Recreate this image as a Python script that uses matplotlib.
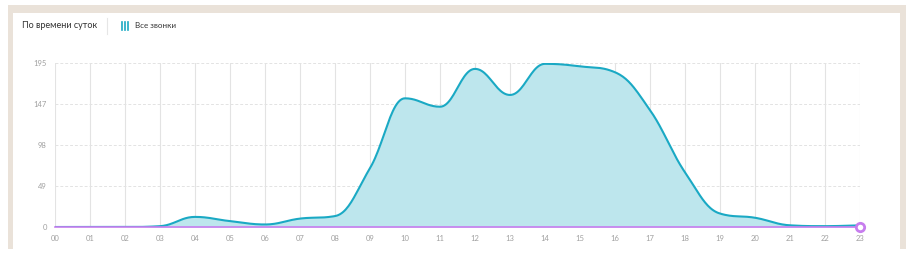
import numpy as np
import matplotlib
matplotlib.use('Agg')
import matplotlib.pyplot as plt
from matplotlib.patches import Rectangle

plt.rcParams['font.family'] = ['Lato', 'DejaVu Sans']

# data
hours = ['00', '01', '02', '03', '04', '05', '06', '07', '08', '09', '10', '11',
         '12', '13', '14', '15', '16', '17', '18', '19', '20', '21', '22', '23']
calls = [0, 0, 0, 1, 12, 7, 3, 10, 13, 70, 153, 143,
         188, 157, 194, 191, 184, 139, 65, 16, 11, 2, 1, 2]
zero_series = [0] * 24
yticks = [0, 48.75, 97.5, 146.25, 195]
ytick_labels = ['0', '49', '98', '147', '195']

TEAL = '#1aa9c4'
FILL = '#bde6ed'
PURPLE = '#c77dee'
GRID = '#e3e3e3'
BEIGE = '#eae2d9'
TXT = '#a0a0a0'


def smooth(x, y, n=24, k=1.5):
    # bezier spline through the points (control points like a web chart lib)
    x = np.asarray(x, float)
    y = np.asarray(y, float)
    N = len(x)
    lx, ly = x.copy(), y.copy()
    rx, ry = x.copy(), y.copy()
    for i in range(1, N - 1):
        lx[i] = (k*x[i] + x[i-1]) / (k + 1)
        ly[i] = (k*y[i] + y[i-1]) / (k + 1)
        rx[i] = (k*x[i] + x[i+1]) / (k + 1)
        ry[i] = (k*y[i] + y[i+1]) / (k + 1)
        corr = (ry[i] - ly[i]) * (rx[i] - x[i]) / (rx[i] - lx[i]) + y[i] - ry[i]
        ly[i] += corr
        ry[i] += corr
        if ly[i] > y[i-1] and ly[i] > y[i]:
            ly[i] = max(y[i-1], y[i]); ry[i] = 2*y[i] - ly[i]
        elif ly[i] < y[i-1] and ly[i] < y[i]:
            ly[i] = min(y[i-1], y[i]); ry[i] = 2*y[i] - ly[i]
        if ry[i] > y[i+1] and ry[i] > y[i]:
            ry[i] = max(y[i+1], y[i]); ly[i] = 2*y[i] - ry[i]
        elif ry[i] < y[i+1] and ry[i] < y[i]:
            ry[i] = min(y[i+1], y[i]); ly[i] = 2*y[i] - ry[i]
    t = np.linspace(0, 1, n, endpoint=False)[:, None]
    pts = []
    for i in range(N - 1):
        p0 = np.array([x[i], y[i]])
        p1 = np.array([rx[i], ry[i]])
        p2 = np.array([lx[i+1], ly[i+1]])
        p3 = np.array([x[i+1], y[i+1]])
        pts.append((1-t)**3*p0 + 3*(1-t)**2*t*p1 + 3*(1-t)*t**2*p2 + t**3*p3)
    pts.append(np.array([[x[-1], y[-1]]]))
    pts = np.vstack(pts)
    return pts[:, 0], pts[:, 1]


W, H = 913, 257
fig = plt.figure(figsize=(W/100, H/100), dpi=100)

# frame
bg = fig.add_axes([0, 0, 1, 1])
bg.set_xlim(0, W)
bg.set_ylim(H, 0)
bg.axis('off')
bg.add_patch(Rectangle((8, 5), 898, 244, color=BEIGE, lw=0))
bg.add_patch(Rectangle((13, 13), 887, 250, color='white', lw=0))
bg.text(22, 26, 'По времени суток', fontsize=6.5, color='#333333', va='center')
bg.plot([107, 107], [18, 34], color='#e6e6e6', lw=0.8)
for bx in [122, 125, 128]:
    bg.plot([bx, bx], [22, 30], color=TEAL, lw=1.2)
bg.text(135, 26, 'Все звонки', fontsize=5.8, color='#333333', va='center')

ax = fig.add_axes([55/W, 1 - 227/H, (860-55)/W, (227-63)/H])
x = np.arange(len(hours))
sx, sy = smooth(x, calls)
ax.fill_between(sx, 0, sy, color=FILL, lw=0)
ax.plot(sx, sy, color=TEAL, lw=1.5)
ax.plot(x, zero_series, color=PURPLE, lw=1.2, clip_on=False)
ax.plot(x[-1], zero_series[-1], 'o', ms=6, mfc='white', mec=PURPLE, mew=2, clip_on=False, zorder=5)

ax.set_xlim(0, 23)
ax.set_ylim(0, 195)
ax.set_xticks(x)
ax.set_xticklabels(hours)
ax.set_yticks(yticks)
ax.set_yticklabels(ytick_labels)
ax.tick_params(length=0, labelsize=5.5, labelcolor=TXT, pad=6)
ax.grid(axis='x', color=GRID, lw=0.8)
ax.grid(axis='y', color=GRID, lw=0.7, ls=(0, (3, 2)))
ax.set_axisbelow(True)
for s in ax.spines.values():
    s.set_visible(False)

fig.savefig('out.png', dpi=100)
